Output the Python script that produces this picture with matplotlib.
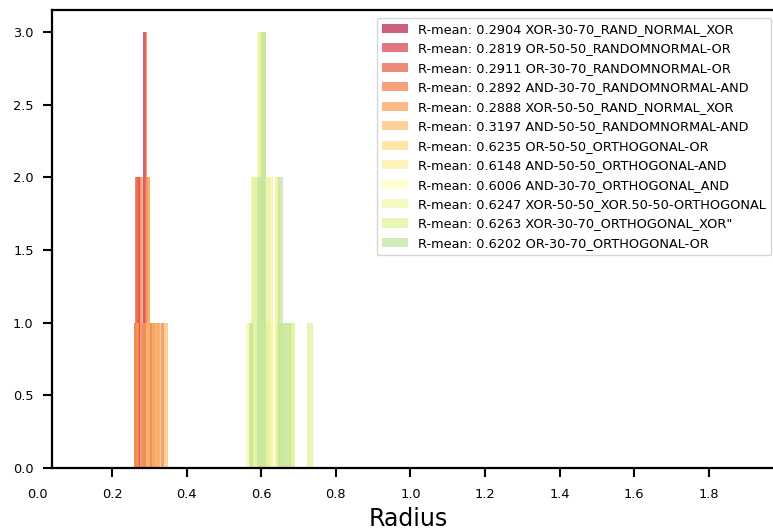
import numpy as np
import matplotlib
matplotlib.use("Agg")
import matplotlib.pyplot as plt

labels = [
    "R-mean: 0.2904 XOR-30-70_RAND_NORMAL_XOR",
    "R-mean: 0.2819 OR-50-50_RANDOMNORMAL-OR",
    "R-mean: 0.2911 OR-30-70_RANDOMNORMAL-OR",
    "R-mean: 0.2892 AND-30-70_RANDOMNORMAL-AND",
    "R-mean: 0.2888 XOR-50-50_RAND_NORMAL_XOR",
    "R-mean: 0.3197 AND-50-50_RANDOMNORMAL-AND",
    "R-mean: 0.6235 OR-50-50_ORTHOGONAL-OR",
    "R-mean: 0.6148 AND-50-50_ORTHOGONAL-AND",
    "R-mean: 0.6006 AND-30-70_ORTHOGONAL_AND",
    "R-mean: 0.6247 XOR-50-50_XOR.50-50-ORTHOGONAL",
    "R-mean: 0.6263 XOR-30-70_ORTHOGONAL_XOR\"",
    "R-mean: 0.6202 OR-30-70_ORTHOGONAL-OR",
]

xor_30_70_rand = [0.258, 0.268, 0.272, 0.2828, 0.2832, 0.2836, 0.295, 0.305, 0.312, 0.340]
or_50_50_rand = [0.260, 0.266, 0.268, 0.271, 0.279, 0.290, 0.291, 0.2915, 0.2965, 0.306]
or_30_70_rand = [0.262, 0.265, 0.270, 0.273, 0.292, 0.2955, 0.299, 0.300, 0.318, 0.330]
and_30_70_rand = [0.264, 0.269, 0.278, 0.281, 0.289, 0.290, 0.292, 0.298, 0.309, 0.322]
xor_50_50_rand = [0.260, 0.268, 0.280, 0.282, 0.286, 0.293, 0.295, 0.299, 0.305, 0.320]
and_50_50_rand = [0.290, 0.298, 0.300, 0.310, 0.319, 0.325, 0.330, 0.334, 0.341, 0.350]
or_50_50_orth = [0.564, 0.600, 0.603, 0.606, 0.612, 0.615, 0.646, 0.647, 0.655, 0.687]
and_50_50_orth = [0.560, 0.580, 0.582, 0.603, 0.604, 0.618, 0.628, 0.631, 0.662, 0.680]
and_30_70_orth = [0.562, 0.580, 0.584, 0.590, 0.592, 0.594, 0.600, 0.618, 0.636, 0.650]
xor_50_50_orth = [0.570, 0.597, 0.599, 0.602, 0.614, 0.624, 0.643, 0.647, 0.668, 0.683]
xor_30_70_orth = [0.575, 0.585, 0.595, 0.600, 0.604, 0.615, 0.620, 0.649, 0.680, 0.740]
or_30_70_orth = [0.566, 0.590, 0.594, 0.601, 0.604, 0.607, 0.648, 0.652, 0.660, 0.680]

series = [xor_30_70_rand, or_50_50_rand, or_30_70_rand, and_30_70_rand,
          xor_50_50_rand, and_50_50_rand, or_50_50_orth, and_50_50_orth,
          and_30_70_orth, xor_50_50_orth, xor_30_70_orth, or_30_70_orth]

xticks = [0.0, 0.2, 0.4, 0.6, 0.8, 1.0, 1.2, 1.4, 1.6, 1.8]
yticks = [0.0, 0.5, 1.0, 1.5, 2.0, 2.5, 3.0]

cmap = plt.get_cmap("Spectral")
colors = [cmap((i + 1) / 18) for i in range(len(series))]

W, H = 773, 531
fig = plt.figure(figsize=(W / 100, H / 100), dpi=100)
left_px, right_px, top_px, bot_px = 37.4, 779, 10, 468
ax = fig.add_axes([left_px / W, (H - bot_px) / H,
                   (right_px - left_px) / W, (bot_px - top_px) / H])

for vals, col, lab in zip(series, colors, labels):
    ax.hist(vals, bins=10, color=col, alpha=0.72, label=lab)

xmax = (right_px - left_px) * 0.2 / 74.6
ax.set_xlim(0, xmax)
ax.set_ylim(0, 3.15)
ax.set_xticks(xticks)
ax.set_xticklabels([f"{t:.1f}" for t in xticks])
ax.set_yticks(yticks)
ax.set_yticklabels([f"{t:.1f}" for t in yticks])

for s in ax.spines.values():
    s.set_linewidth(1.6)
ax.spines["right"].set_visible(False)
ax.spines["left"].set_position(("data", 0.04))
ax.spines["bottom"].set_bounds(0.04, xmax)
ax.spines["top"].set_bounds(0.04, xmax)

ax.tick_params(axis="both", length=6.5, width=1.5, labelsize=9.3, colors="black")
ax.tick_params(axis="y", pad=7)
ax.tick_params(axis="x", pad=8)
ax.xaxis.get_major_ticks()[0].tick1line.set_visible(False)

ax.set_xlabel("Radius", fontsize=17, labelpad=4)

leg = ax.legend(loc="upper right", fontsize=9.3, borderaxespad=0.6,
                handlelength=2.0, handletextpad=0.8, labelspacing=0.5,
                framealpha=0.8)

fig.savefig("out.png", dpi=100)
